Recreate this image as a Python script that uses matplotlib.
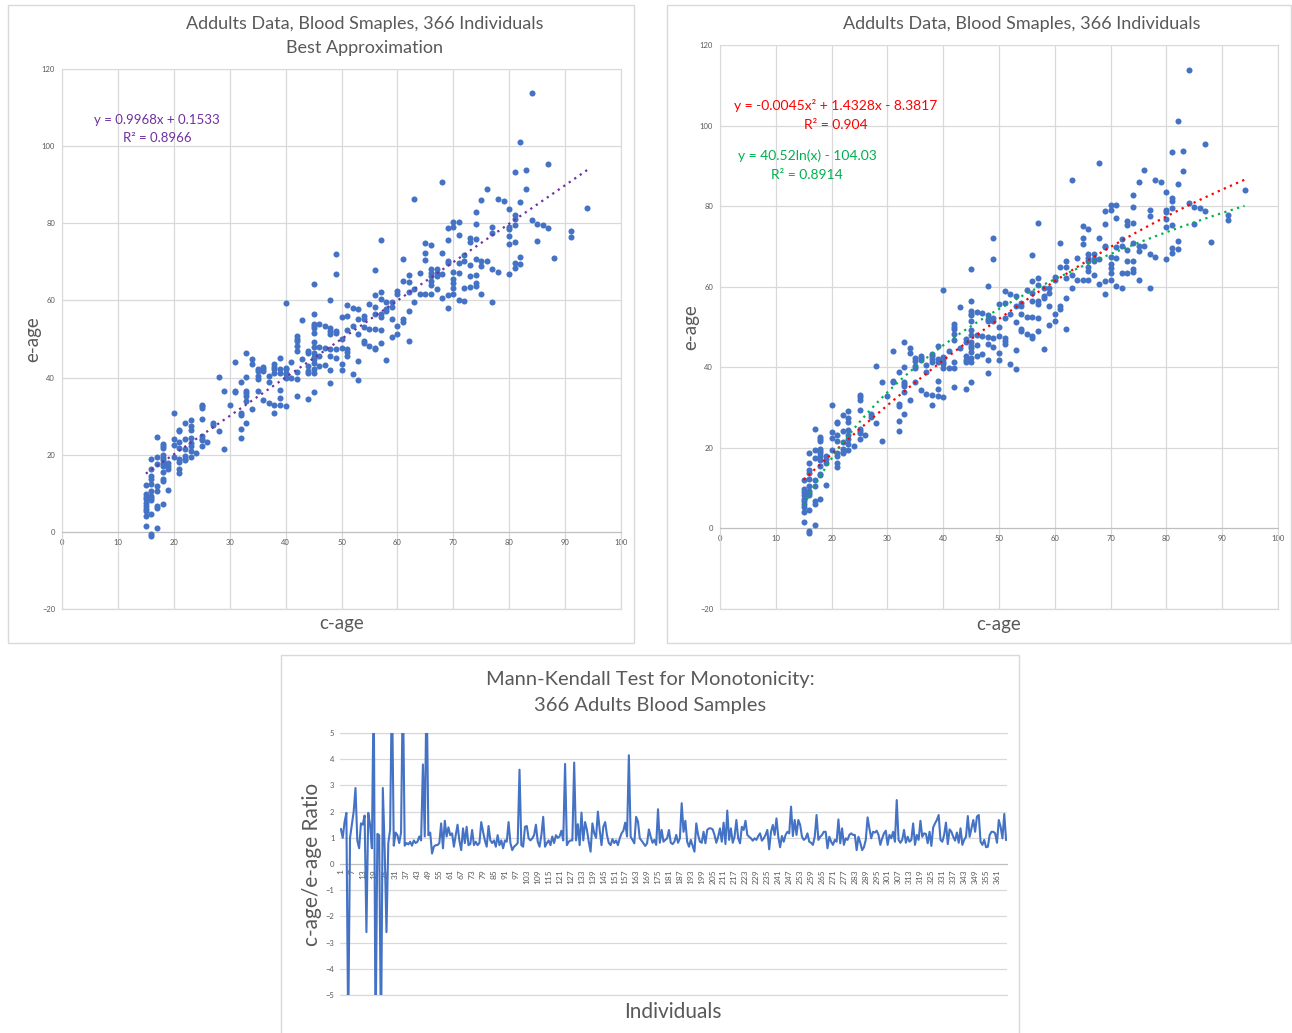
import matplotlib
matplotlib.use("Agg")
import matplotlib.pyplot as plt
from matplotlib.patches import Rectangle
import numpy as np

plt.rcParams['font.family'] = ['Lato', 'DejaVu Sans']

# scatter data: c-age columns and the e-age values read for each column
ages = [15, 16, 17, 18, 19, 20, 21, 22, 23, 24, 25, 26, 27, 28, 29, 30,
        31, 32, 33, 34, 35, 36, 37, 38, 39, 40, 41, 42, 43, 44, 45, 46,
        47, 48, 49, 50, 51, 52, 53, 54, 55, 56, 57, 58, 59, 60, 61, 62,
        63, 64, 65, 66, 67, 68, 69, 70, 71, 72, 73, 74, 75, 76, 77, 78,
        79, 80, 81, 82, 83, 84, 85, 86, 87, 88, 91, 94]
e_by_age = [
    [12.1, 9.7, 9.1, 8.4, 7.4, 6.7, 6.0, 5.4, 4.1, 1.6],
    [18.8, 16.2, 14.5, 13.8, 12.3, 10.6, 9.3, 8.9, 8.3, 4.6, -0.6, -1.2],
    [24.7, 19.4, 17.5, 11.9, 10.6, 6.7, 6.1, 0.9],
    [22.8, 22.2, 21.8, 19.8, 19.2, 18.6, 17.9, 17.1, 15.5, 13.6, 13.2, 7.3],
    [17.9, 17.2, 16.2, 10.9],
    [30.7, 24.0, 22.5, 19.5],
    [26.4, 26.1, 23.3, 21.8, 18.8, 18.1, 16.2, 15.2],
    [28.1, 24.1, 21.4, 19.7, 19.0, 18.6],
    [29.1, 27.4, 26.4, 24.4, 23.1, 22.2, 20.9, 19.5],
    [20.5],
    [33.0, 32.6, 32.0, 29.3, 24.8, 24.1, 23.8, 22.2],
    [23.3],
    [28.3, 27.6],
    [40.2, 26.1],
    [36.4, 21.6],
    [32.8],
    [44.1, 36.6, 36.3],
    [38.8, 30.9, 30.4, 26.6, 24.3],
    [46.4, 40.1, 36.4, 35.9, 35.3, 33.9, 28.3],
    [44.8, 43.6, 31.9],
    [42.2, 41.6, 40.3, 39.7, 36.4],
    [42.8, 42.2, 41.7, 34.3],
    [40.5, 38.9, 33.3],
    [43.4, 42.7, 42.1, 41.2, 33.0, 30.7],
    [45.2, 42.1, 41.2, 36.7, 34.7, 32.9],
    [59.3, 42.6, 42.1, 41.2, 40.8, 39.9, 32.6],
    [44.1, 39.8],
    [50.7, 50.1, 49.4, 48.3, 46.8, 41.4, 39.7, 35.2],
    [54.9, 44.8],
    [47.0, 46.4, 42.9, 41.8, 41.2, 34.5],
    [64.3, 56.5, 53.9, 53.3, 52.9, 51.6, 49.2, 48.0, 46.4, 45.4, 44.7,
     43.8, 42.3, 41.2, 36.3],
    [53.8, 47.9, 45.5, 42.9],
    [53.5, 47.7, 43.2],
    [60.1, 52.9, 52.0, 51.4, 47.4, 45.7, 41.9, 38.6],
    [72.1, 66.8, 52.2, 51.6, 47.3, 45.1],
    [55.8, 50.0, 47.7, 43.5, 41.9],
    [58.9, 55.9, 52.3, 47.3, 46.6, 45.7],
    [58.1, 53.3, 40.8],
    [57.8, 55.2, 51.2, 44.2, 39.5],
    [56.0, 55.1, 53.2, 49.4, 49.0],
    [59.1, 52.5, 48.3],
    [67.9, 61.4, 58.4, 56.5, 52.6, 47.7, 47.3],
    [75.7, 62.2, 60.5, 56.4, 55.7, 52.3, 48.9],
    [59.6, 57.7, 57.2, 44.5],
    [59.6, 58.4, 55.2, 50.6],
    [62.4, 61.6, 53.3, 51.4],
    [70.8, 65.0, 55.1, 54.4],
    [66.5, 64.8, 62.2, 57.2, 49.6],
    [86.4, 63.0, 59.6],
    [67.2, 61.6],
    [75.0, 72.2, 70.6, 61.6],
    [74.3, 68.1, 67.2, 66.3, 65.0, 63.9, 61.6],
    [68.1, 67.0, 66.3, 62.9],
    [90.8, 72.2, 66.8, 60.7],
    [78.9, 75.6, 70.2, 69.8, 61.3, 58.1],
    [80.3, 79.1, 67.4, 65.6, 64.6, 63.3, 61.6],
    [80.3, 77.0, 69.8, 67.2, 60.1],
    [71.9, 70.2, 63.3, 59.8],
    [76.3, 75.2, 69.1, 66.3, 63.5],
    [82.8, 79.9, 75.8, 70.8, 66.5, 64.4, 63.7],
    [86.1, 70.2, 68.9, 61.6],
    [89.0, 70.2],
    [79.1, 77.6, 68.2, 59.6],
    [86.4, 67.4],
    [85.9],
    [83.6, 79.0, 78.6, 76.7, 74.7, 66.9],
    [93.4, 82.1, 81.2, 79.6, 75.2, 69.6, 68.4],
    [101.2, 85.6, 71.3, 69.4],
    [93.8, 88.8],
    [113.8, 80.8],
    [79.9, 75.5],
    [79.6],
    [95.5, 78.9],
    [71.1],
    [77.9, 76.5],
    [83.9],
]

# trendline coefficients as printed on the charts
lin_coef = (0.9968, 0.1533)
poly_coef = (-0.0045, 1.4328, -8.3817)
log_coef = (40.52, -104.03)

# c-age / e-age ratio per individual (values beyond +-5 run off the chart)
ratio_a = [1.33, 1.0, 1.6, 1.95, -6.5, 1.0, 1.5, 2.0, 2.9, 0.9,
           0.6, 1.55, 1.5, 1.85, -2.6, 1.95, 1.5, 0.6, 7.0, -7.0,
           1.15, 1.1, -7.0, 2.9, 0.6, -2.6, 0.8, 1.3, 7.0, 0.7,
           1.2, 1.1, 0.8, 1.2, 7.0, 0.7, 0.8, 0.75, 0.85, 0.7,
           0.9, 0.8, 0.85, 1.05, 0.9, 3.8, 1.05, 7.0, 1.1]
ratio_b = [1.2, 0.4, 0.66, 0.72, 0.72, 0.8, 1.55, 0.6, 1.65, 1.05,
           1.4, 1.1, 1.17, 0.66, 1.1, 1.5, 0.9, 0.53, 1.36, 0.8,
           1.42, 0.72, 0.76, 1.3, 0.72, 0.85, 0.72, 0.8, 1.6, 1.23,
           0.9, 0.66, 1.45, 0.9, 0.8, 0.9, 0.66, 1.1, 0.72, 0.9,
           0.6, 0.9, 0.85, 1.6, 0.8, 0.53, 0.66, 0.72, 0.8, 3.6,
           0.72, 0.66, 1.42, 1.45, 0.98, 0.9, 0.98, 1.1, 1.5, 0.85,
           0.66, 1.1, 1.8, 0.66, 0.8, 0.9, 0.72, 1.05, 0.8, 1.1,
           1.0, 1.05, 1.27, 0.9, 3.82, 0.72, 0.85, 0.9, 0.9, 3.87,
           0.9, 1.52, 0.72, 1.96, 0.9, 1.6, 1.3, 0.85, 0.47, 1.55,
           1.17, 1.0, 2.0, 1.3, 0.72, 1.42, 1.6, 1.1, 0.8, 0.72,
           0.95, 0.8, 0.9, 0.72, 0.98, 1.17, 1.27, 1.58, 1.05, 4.15]
ratio_c = [1.04, 0.92, 0.79, 1.8, 1.62, 0.98, 0.89, 0.79, 0.69, 0.79,
           1.32, 1.04, 0.81, 0.92, 0.73, 2.09, 0.81, 1.3, 0.85, 0.92,
           0.98, 1.3, 0.81, 0.76, 0.85, 1.11, 0.81, 0.98, 2.32, 1.23,
           1.65, 0.85, 0.66, 0.92, 0.69, 0.47, 1.55, 1.11, 0.85, 0.81,
           1.23, 0.79, 1.3, 1.36, 1.36, 1.32, 1.11, 0.81, 1.04, 1.36,
           0.85, 1.58, 0.76, 2.04, 0.92, 1.36, 0.81, 1.04, 1.68, 0.98,
           0.79, 1.42, 1.3, 1.65, 1.11, 1.04, 0.98, 0.89, 0.98, 0.92,
           1.07, 1.17, 0.89, 0.98, 1.11, 1.3, 0.56, 1.23, 1.49, 1.11,
           1.74, 1.04, 0.64, 1.07, 0.85, 1.11, 1.23, 1.17, 2.19, 1.07,
           1.68, 1.11, 1.68, 1.49, 1.04, 0.92, 0.98, 1.17, 0.85, 0.81,
           0.73, 1.04, 1.87, 0.92, 1.04, 1.11, 1.23]
ratio_d = [1.23, 0.6, 1.04, 0.85, 0.73, 0.92, 0.85, 1.7, 0.79, 1.36,
           0.73, 0.98, 0.92, 1.11, 1.17, 1.11, 1.11, 0.53, 1.04, 0.81,
           0.53, 0.64, 0.92, 1.78, 1.36, 0.98, 1.23, 1.2, 1.27, 1.11,
           0.73, 0.98, 1.17, 1.27, 0.73, 1.11, 0.98, 1.23, 0.85, 2.44,
           0.92, 0.81, 0.92, 1.3, 0.81, 1.04, 0.85, 0.92, 1.55, 0.73,
           1.11, 0.92, 1.65, 1.04, 1.17, 1.15, 0.79, 1.23, 0.69, 1.4,
           1.55, 1.68, 1.87, 0.92, 0.85, 1.11, 1.58, 0.76, 1.32, 1.23,
           1.04, 0.89, 1.2, 0.81, 1.36, 0.73, 0.92, 1.04, 1.83, 1.04,
           1.36, 1.68, 1.23, 1.81, 1.87, 0.85, 0.73, 0.92, 0.64, 0.66,
           1.11, 1.23, 1.23, 1.17, 0.81, 1.68, 1.42, 0.98, 1.91, 0.92]

c_age = [a for a, col in zip(ages, e_by_age) for _ in col]
e_age = [v for col in e_by_age for v in col]
ratio = ratio_a + ratio_b + ratio_c + ratio_d
individuals = np.arange(1, len(ratio) + 1)

BLUE = "#4472C4"
GRID = "#D9D9D9"
TXT = "#595959"
W, H = 1292, 1033


def box(px0, py0, px1, py1):
    # pixel box -> figure fraction rect [left, bottom, width, height]
    return [px0 / W, 1 - py1 / H, (px1 - px0) / W, (py1 - py0) / H]


def chart_frame(fig, px0, py0, px1, py1):
    l, b, w, h = box(px0, py0, px1, py1)
    fig.add_artist(Rectangle((l, b), w, h, transform=fig.transFigure,
                             fill=False, ec=GRID, lw=1))


def scatter_panel(ax):
    ax.scatter(c_age, e_age, s=19, color=BLUE, linewidths=0, zorder=3)
    ax.set_xlim(0, 100)
    ax.set_ylim(-20, 120)
    ax.set_xticks(range(0, 101, 10))
    ax.set_yticks(range(-20, 121, 20))
    ax.grid(color=GRID, lw=0.9)
    ax.set_axisbelow(True)
    for s in ["top", "right", "left"]:
        ax.spines[s].set_color(GRID)
    ax.spines["bottom"].set_position(("data", 0))
    ax.spines["bottom"].set_color("#BFBFBF")
    ax.axhline(-20, color=GRID, lw=0.9, clip_on=False)
    ax.tick_params(length=0, labelsize=5.5, colors=TXT, pad=5)
    ax.set_xlabel("c-age", fontsize=13.5, color=TXT)
    ax.xaxis.set_label_coords(0.5, -0.012)
    ax.set_ylabel("e-age", fontsize=13.5, color=TXT)


fig = plt.figure(figsize=(W / 100, H / 100), dpi=100)

# left chart: linear best fit
chart_frame(fig, 8, 5, 634, 643)
ax1 = fig.add_axes(box(62, 69, 621, 609))
scatter_panel(ax1)
ax1.yaxis.set_label_coords(-0.037, 0.5)
xs = np.linspace(min(c_age), max(c_age), 100)
ax1.plot(xs, lin_coef[0] * xs + lin_coef[1], color="#7030A0", lw=1.6,
         ls=(0, (1, 2)), zorder=4)
fig.text(365 / W, 1 - 24 / H, "Addults Data, Blood Smaples, 366 Individuals",
         ha="center", va="center", fontsize=13, color=TXT)
fig.text(365 / W, 1 - 48 / H, "Best Approximation",
         ha="center", va="center", fontsize=13, color=TXT)
fig.text(157 / W, 1 - 120 / H, "y = 0.9968x + 0.1533", ha="center",
         va="center", fontsize=9.5, color="#7030A0")
fig.text(157 / W, 1 - 138 / H, "R² = 0.8966", ha="center",
         va="center", fontsize=9.5, color="#7030A0")

# right chart: polynomial and log fits
chart_frame(fig, 667, 5, 1291, 643)
ax2 = fig.add_axes(box(720, 45, 1278, 609))
scatter_panel(ax2)
ax2.yaxis.set_label_coords(-0.038, 0.5)
ax2.plot(xs, poly_coef[0] * xs ** 2 + poly_coef[1] * xs + poly_coef[2],
         color="#FF0000", lw=1.6, ls=(0, (1, 2)), zorder=4)
ax2.plot(xs, log_coef[0] * np.log(xs) + log_coef[1],
         color="#00B050", lw=1.6, ls=(0, (1, 2)), zorder=4)
fig.text(1022 / W, 1 - 24 / H, "Addults Data, Blood Smaples, 366 Individuals",
         ha="center", va="center", fontsize=13, color=TXT)
fig.text(836 / W, 1 - 106 / H, "y = -0.0045x² + 1.4328x - 8.3817",
         ha="center", va="center", fontsize=10, color="#FF0000")
fig.text(836 / W, 1 - 125 / H, "R² = 0.904",
         ha="center", va="center", fontsize=10, color="#FF0000")
fig.text(807 / W, 1 - 156 / H, "y = 40.52ln(x) - 104.03",
         ha="center", va="center", fontsize=10, color="#00B050")
fig.text(807 / W, 1 - 175 / H, "R² = 0.8914",
         ha="center", va="center", fontsize=10, color="#00B050")

# bottom chart: ratio line
chart_frame(fig, 281, 655, 1019, 1040)
ax3 = fig.add_axes(box(340, 733, 1007, 995))
ax3.plot(individuals, ratio, color=BLUE, lw=1.5, zorder=3)
ax3.set_xlim(0.5, len(ratio) + 0.5)
ax3.set_ylim(-5, 5)
ax3.set_yticks(range(-5, 6))
ax3.set_xticks(individuals[::6])
ax3.set_xticklabels([str(i) for i in individuals[::6]])
ax3.grid(axis="y", color=GRID, lw=0.9)
ax3.set_axisbelow(True)
for s in ["top", "right", "left"]:
    ax3.spines[s].set_visible(False)
ax3.spines["bottom"].set_position(("data", 0))
ax3.spines["bottom"].set_color("#BFBFBF")
ax3.axhline(-5, color=GRID, lw=0.9, clip_on=False)
ax3.axhline(5, color=GRID, lw=0.9, clip_on=False)
ax3.tick_params(length=0, labelsize=5.5, colors=TXT, pad=4)
ax3.tick_params(axis="x", labelrotation=90, labelsize=6)
ax3.set_ylabel("c-age/e-age Ratio", fontsize=15, color=TXT)
ax3.yaxis.set_label_coords(-0.027, 0.5)
fig.text(673 / W, 1 - 1012 / H, "Individuals", ha="center", va="center",
         fontsize=15, color=TXT)
fig.text(650 / W, 1 - 679 / H, "Mann-Kendall Test for Monotonicity:",
         ha="center", va="center", fontsize=14.5, color=TXT)
fig.text(650 / W, 1 - 705 / H, "366 Adults Blood Samples",
         ha="center", va="center", fontsize=14.5, color=TXT)

fig.savefig("out.png", dpi=100)
